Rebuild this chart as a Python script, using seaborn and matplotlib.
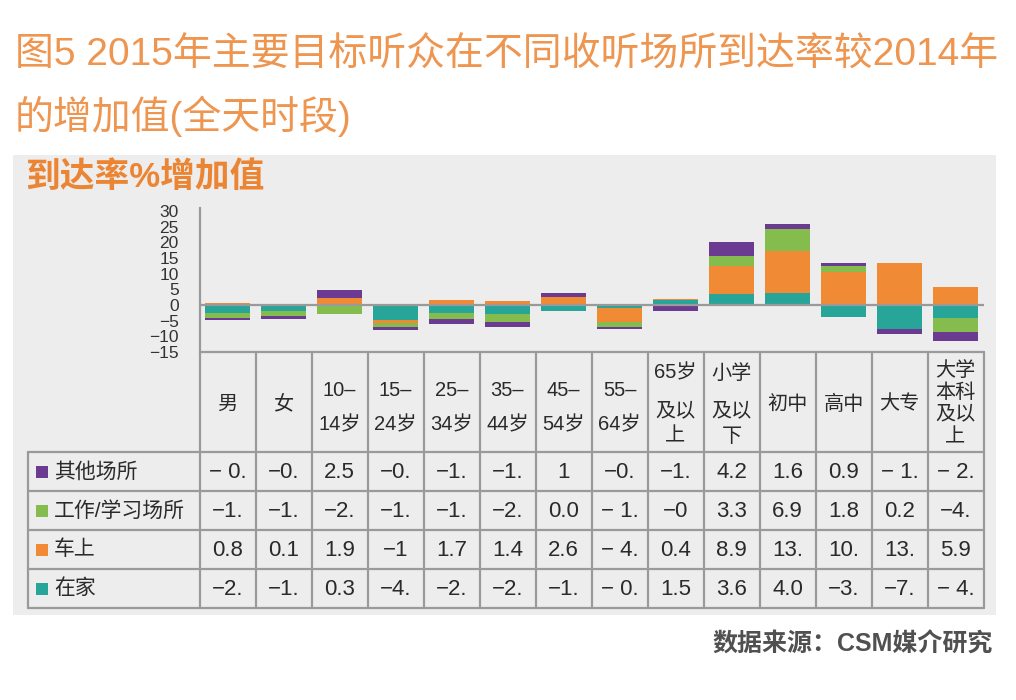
import numpy as np
import matplotlib.pyplot as plt
import seaborn as sns
from matplotlib.patches import Rectangle

# categories (table header) and the 4 listening places
categories = ['男', '女', '10–14岁', '15–24岁', '25–34岁', '35–44岁', '45–54岁',
              '55–64岁', '65岁及以上', '小学及以下', '初中', '高中', '大专', '大学本科及以上']
header_lines = [['男'], ['女'], ['10–', '14岁'], ['15–', '24岁'], ['25–', '34岁'],
                ['35–', '44岁'], ['45–', '54岁'], ['55–', '64岁'], ['65岁', '及以', '上'],
                ['小学', '及以', '下'], ['初中'], ['高中'], ['大专'], ['大学', '本科', '及以', '上']]

series_names = ['在家', '车上', '工作/学习场所', '其他场所']
series_colors = ['#27A598', '#F08A35', '#84BD4E', '#6B3B91']

# values
home = [-2.7, -1.8, 0.3, -4.8, -2.4, -2.8, -1.9, -0.9, 1.5, 3.6, 4.0, -3.9, -7.7, -4.1]
car = [0.8, 0.1, 1.9, -0.8, 1.7, 1.4, 2.6, -4.4, 0.4, 8.9, 13.3, 10.6, 13.3, 5.9]
work = [-1.3, -1.6, -2.8, -1.5, -1.9, -2.6, 0.05, -1.6, -0.3, 3.3, 6.9, 1.8, 0.2, -4.6]
other = [-0.9, -0.9, 2.5, -0.9, -1.8, -1.5, 1.1, -0.6, -1.7, 4.2, 1.6, 0.9, -1.4, -2.8]

# text as shown in the (too narrow) table cells
home_txt = ['−2.', '−1.', '0.3', '−4.', '−2.', '−2.', '−1.', '− 0.', '1.5', '3.6', '4.0', '−3.', '−7.', '− 4.']
car_txt = ['0.8', '0.1', '1.9', '−1', '1.7', '1.4', '2.6', '− 4.', '0.4', '8.9', '13.', '10.', '13.', '5.9']
work_txt = ['−1.', '−1.', '−2.', '−1.', '−1.', '−2.', '0.0', '− 1.', '−0', '3.3', '6.9', '1.8', '0.2', '−4.']
other_txt = ['− 0.', '−0.', '2.5', '−0.', '−1.', '−1.', '1', '−0.', '−1.', '4.2', '1.6', '0.9', '− 1.', '− 2.']

y_ticks = [-15, -10, -5, 0, 5, 10, 15, 20, 25, 30]

sns.set_theme(style='white')
plt.rcParams['font.family'] = ['Liberation Sans', 'Noto Sans CJK SC']
plt.rcParams['axes.unicode_minus'] = True

W, H = 1016, 700
fig = plt.figure(figsize=(W / 100, H / 100), dpi=100)
fig.patch.set_facecolor('white')

# pixel canvas for panel, titles and table
bg = fig.add_axes([0, 0, 1, 1], zorder=0)
bg.set_xlim(0, W)
bg.set_ylim(H, 0)
bg.axis('off')
bg.add_patch(Rectangle((13, 155), 983, 460, facecolor='#ECEDEC', lw=0))

orange_t = '#EE9550'
bg.text(15, 56, '图5 2015年主要目标听众在不同收听场所到达率较2014年', fontsize=28,
        color=orange_t, va='center', ha='left')
bg.text(15, 116, '的增加值(全天时段)', fontsize=28, color=orange_t, va='center', ha='left')
bg.text(25, 177, '到达率%增加值', fontsize=25, weight='bold', color='#EC8533',
        va='center', ha='left')
bg.text(993, 645, '数据来源：CSM媒介研究', fontsize=18, weight='bold', color='#505050',
        va='center', ha='right')

# chart area
x0, x1 = 199.5, 983.5
top, bot = 208, 352
ax = fig.add_axes([x0 / W, 1 - bot / H, (x1 - x0) / W, (bot - top) / H], zorder=2)
ax.patch.set_alpha(0)

vals = np.array([home, car, work, other])
pos_base = np.zeros(len(categories))
neg_base = np.zeros(len(categories))
for v, c in zip(vals, series_colors):
    bottom = np.where(v >= 0, pos_base, neg_base)
    sns.barplot(x=categories, y=v, bottom=bottom, color=c, width=0.82, saturation=1,
                linewidth=0, errorbar=None, ax=ax)
    pos_base += np.where(v >= 0, v, 0)
    neg_base += np.where(v < 0, v, 0)

grid_c = '#9A9A9A'
ax.axhline(0, color=grid_c, lw=1.6, zorder=5)
ax.set_xlim(-0.5, len(categories) - 0.5)
ax.set_ylim(-15, 31)
ax.set_yticks(y_ticks)
ax.set_yticklabels([str(t).replace('-', '−') for t in y_ticks])
ax.tick_params(axis='y', length=0, pad=15, labelsize=12.5, labelcolor='#333333')
ax.set_xticks([])
ax.set_xlabel('')
ax.set_ylabel('')
for s in ['top', 'right', 'bottom']:
    ax.spines[s].set_visible(False)
ax.spines['left'].set_color(grid_c)
ax.spines['left'].set_linewidth(1.6)

# data table under the chart
cw = (x1 - x0) / len(categories)
row_edges = [452, 491, 530, 569, 608]
lw_t = 1.6
bg.plot([x0, x1], [bot, bot], color=grid_c, lw=lw_t)
for y in row_edges:
    bg.plot([28, x1], [y, y], color=grid_c, lw=lw_t)
bg.plot([28, 28], [row_edges[0], row_edges[-1]], color=grid_c, lw=lw_t)
for i in range(len(categories) + 1):
    xx = x0 + i * cw
    bg.plot([xx, xx], [bot, row_edges[-1]], color=grid_c, lw=lw_t)

line_pos = {1: [404], 2: [390, 425], 3: [373, 411, 436], 4: [370, 392, 414, 437]}
txt_c = '#2A2A2A'
for i, lines in enumerate(header_lines):
    cx = x0 + (i + 0.5) * cw
    for ln, yy in zip(lines, line_pos[len(lines)]):
        bg.text(cx, yy, ln, fontsize=14.5, color=txt_c, ha='center', va='center')

row_texts = [other_txt, work_txt, car_txt, home_txt]
row_names = series_names[::-1]
row_colors = series_colors[::-1]
for r, (name, col, txts) in enumerate(zip(row_names, row_colors, row_texts)):
    cy = (row_edges[r] + row_edges[r + 1]) / 2
    bg.add_patch(Rectangle((36, cy - 6), 12, 12, facecolor=col, lw=0))
    bg.text(54, cy, name, fontsize=15, color=txt_c, ha='left', va='center')
    for i, t in enumerate(txts):
        bg.text(x0 + (i + 0.5) * cw, cy + 1, t, fontsize=16, color=txt_c,
                ha='center', va='center')

fig.savefig('out.png', dpi=100, facecolor='white')
